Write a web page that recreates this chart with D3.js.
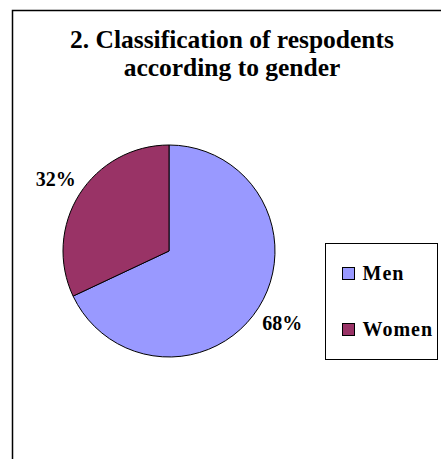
<!DOCTYPE html>
<html>
<head>
<meta charset="utf-8">
<script src="https://cdn.jsdelivr.net/npm/d3@7"></script>
<style>
  html, body { margin: 0; padding: 0; background: #fff; }
  svg { display: block; }
</style>
</head>
<body>
<div id="chart"></div>
<script>
const categories = ["Men", "Women"];
const values = [68, 32];
const colors = ["#9999FF", "#993366"];
const titleLines = ["2. Classification of respodents", "according to gender"];

const width = 441, height = 459;
const cx = 169, cy = 251, radius = 106;
const serif = "'Liberation Serif'";

const svg = d3.select("#chart")
  .append("svg")
  .attr("width", width)
  .attr("height", height);

// chart area frame (runs off the right and bottom edges)
svg.append("rect")
  .attr("x", 12.5).attr("y", 10.5)
  .attr("width", width).attr("height", height)
  .attr("fill", "#fff")
  .attr("stroke", "#000")
  .attr("stroke-width", 1.5);

svg.append("g")
  .selectAll("text")
  .data(titleLines)
  .join("text")
  .attr("x", 232)
  .attr("y", (d, i) => 48 + i * 28)
  .attr("text-anchor", "middle")
  .style("font-family", serif)
  .style("font-weight", "bold")
  .style("font-size", "25.5px")
  .text(d => d);

const data = categories.map((c, i) => ({ name: c, value: values[i] }));
const color = d3.scaleOrdinal().domain(categories).range(colors);

const pie = d3.pie().sort(null).value(d => d.value);
const arcs = pie(data);
const arc = d3.arc().innerRadius(0).outerRadius(radius);
const labelArc = d3.arc().innerRadius(134).outerRadius(134);

const g = svg.append("g").attr("transform", `translate(${cx},${cy})`);

g.selectAll("path")
  .data(arcs)
  .join("path")
  .attr("d", arc)
  .attr("fill", d => color(d.data.name))
  .attr("stroke", "#000")
  .attr("stroke-width", 1);

const total = d3.sum(values);
g.selectAll("text")
  .data(arcs)
  .join("text")
  .attr("transform", d => `translate(${labelArc.centroid(d)})`)
  .attr("text-anchor", "middle")
  .attr("dy", "0.35em")
  .style("font-family", serif)
  .style("font-weight", "bold")
  .style("font-size", "20px")
  .text(d => Math.round(d.data.value / total * 100) + "%");

// legend
const legend = svg.append("g").attr("transform", "translate(325.5,243.5)");
legend.append("rect")
  .attr("width", 112).attr("height", 116)
  .attr("fill", "#fff")
  .attr("stroke", "#000")
  .attr("stroke-width", 1);

const item = legend.selectAll("g.item")
  .data(categories)
  .join("g")
  .attr("class", "item")
  .attr("transform", (d, i) => `translate(17,${24 + i * 56})`);

item.append("rect")
  .attr("width", 12).attr("height", 12)
  .attr("fill", d => color(d))
  .attr("stroke", "#000")
  .attr("stroke-width", 1);

item.append("text")
  .attr("x", 20)
  .attr("y", 12)
  .style("font-family", serif)
  .style("font-weight", "bold")
  .style("font-size", "20px")
  .style("letter-spacing", "1px")
  .text(d => d);
</script>
</body>
</html>
